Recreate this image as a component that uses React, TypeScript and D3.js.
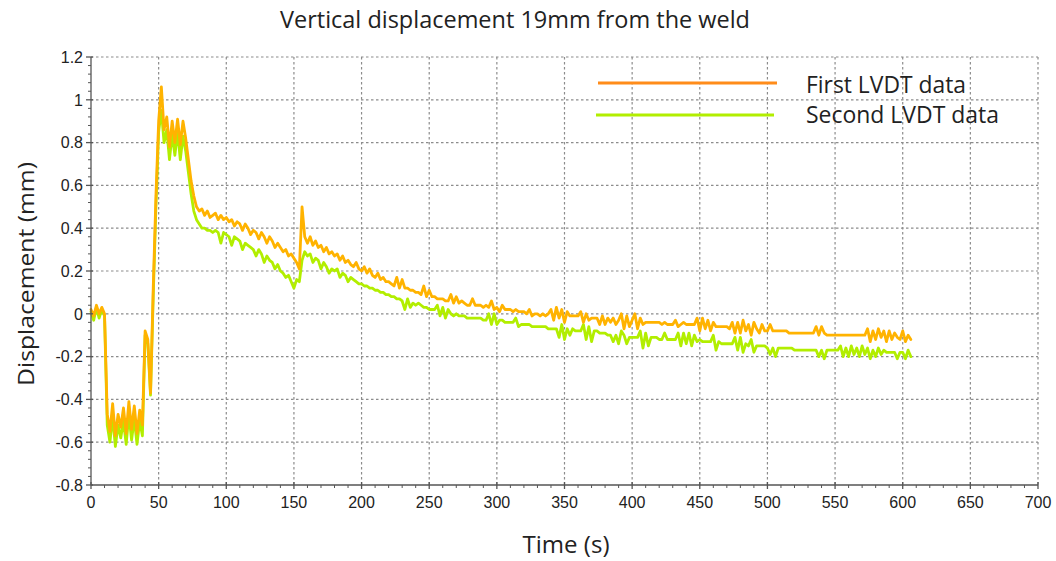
import React from "react";
import * as d3 from "d3";

// Chart text
const TITLE = "Vertical displacement 19mm from the weld";
const X_LABEL = "Time (s)";
const Y_LABEL = "Displacement (mm)";
const SERIES_NAMES = ["First LVDT data", "Second LVDT data"];

// Axis ticks
const X_TICKS = [0, 50, 100, 150, 200, 250, 300, 350, 400, 450, 500, 550, 600, 650, 700];
const Y_TICKS = [-0.8, -0.6, -0.4, -0.2, 0, 0.2, 0.4, 0.6, 0.8, 1, 1.2];

// LVDT readings (mm), logged every 2 s from t = 0
const SAMPLE_STEP_S = 2;

const firstLvdt = [
  0.02, -0.01, 0.04, 0.0, 0.03, 0.0, -0.47, -0.55, -0.42, -0.57,
  -0.47, -0.53, -0.44, -0.56, -0.41, -0.54, -0.43, -0.56, -0.45, -0.52,
  -0.08, -0.12, -0.37, 0.12, 0.55, 0.9, 1.06, 0.86, 0.92, 0.78,
  0.9, 0.8, 0.91, 0.79, 0.9, 0.82, 0.72, 0.62, 0.55, 0.5,
  0.48, 0.49, 0.46, 0.48, 0.45, 0.46, 0.47, 0.44, 0.46, 0.44,
  0.45, 0.43, 0.44, 0.41, 0.43, 0.42, 0.39, 0.42, 0.4, 0.37,
  0.39, 0.38, 0.35, 0.38, 0.36, 0.33, 0.36, 0.34, 0.31, 0.33,
  0.31, 0.29, 0.3, 0.27, 0.28, 0.26, 0.24, 0.21, 0.5, 0.36,
  0.33, 0.36, 0.32, 0.34, 0.31, 0.32, 0.29, 0.31, 0.28, 0.29,
  0.27, 0.28, 0.25, 0.27, 0.24, 0.25, 0.23, 0.22, 0.24, 0.21,
  0.2, 0.22, 0.19, 0.21, 0.18, 0.17, 0.19, 0.16, 0.17, 0.15,
  0.15, 0.14, 0.13, 0.17, 0.12, 0.16, 0.12, 0.12, 0.11, 0.11,
  0.1, 0.1, 0.09, 0.13, 0.08, 0.11, 0.08, 0.08, 0.07, 0.07,
  0.07, 0.06, 0.06, 0.09, 0.05, 0.08, 0.05, 0.06, 0.05, 0.04,
  0.04, 0.07, 0.04, 0.04, 0.04, 0.03, 0.04, 0.03, 0.06, 0.02,
  0.03, 0.01, 0.04, 0.02, 0.02, 0.02, 0.01, 0.02, 0.01, 0.01,
  0.01, 0.0, 0.02, -0.01, 0.0, 0.0, -0.01, 0.0, -0.01, 0.0,
  0.02, -0.03, 0.03, -0.02, 0.02, -0.04, 0.01, -0.01, -0.01, -0.01,
  -0.01, 0.01, -0.04, 0.0, -0.03, -0.02, -0.02, -0.02, -0.05, -0.01,
  -0.05, -0.02, -0.04, -0.02, -0.05, -0.03, 0.0, -0.07, -0.01, -0.06,
  -0.03, 0.0, -0.07, -0.02, -0.05, -0.04, -0.04, -0.04, -0.04, -0.04,
  -0.04, -0.05, -0.04, -0.05, -0.05, -0.05, -0.03, -0.06, -0.05, -0.04,
  -0.05, -0.05, -0.05, -0.05, -0.02, -0.08, -0.02, -0.07, -0.03, -0.08,
  -0.04, -0.06, -0.06, -0.06, -0.06, -0.06, -0.07, -0.04, -0.09, -0.04,
  -0.09, -0.03, -0.08, -0.05, -0.1, -0.04, -0.07, -0.09, -0.05, -0.08,
  -0.08, -0.05, -0.08, -0.08, -0.08, -0.08, -0.08, -0.08, -0.09, -0.09,
  -0.09, -0.09, -0.09, -0.09, -0.09, -0.09, -0.09, -0.09, -0.06, -0.1,
  -0.06, -0.09, -0.1, -0.1, -0.1, -0.1, -0.1, -0.1, -0.1, -0.1,
  -0.1, -0.1, -0.1, -0.1, -0.1, -0.1, -0.1, -0.07, -0.13, -0.08,
  -0.12, -0.07, -0.11, -0.08, -0.13, -0.08, -0.12, -0.09, -0.11, -0.12,
  -0.08, -0.13, -0.1, -0.12,
];

const secondLvdt = [
  0.01, -0.03, 0.03, -0.02, 0.02, -0.01, -0.52, -0.6, -0.48, -0.62,
  -0.52, -0.58, -0.5, -0.61, -0.47, -0.59, -0.49, -0.61, -0.5, -0.57,
  -0.1, -0.14, -0.38, 0.08, 0.5, 0.85, 0.95, 0.8, 0.86, 0.72,
  0.84, 0.74, 0.85, 0.72, 0.83, 0.76, 0.66, 0.56, 0.48, 0.44,
  0.42, 0.4, 0.4, 0.39, 0.39, 0.38, 0.39, 0.38, 0.33, 0.38,
  0.37, 0.36, 0.32, 0.36, 0.35, 0.34, 0.3, 0.33, 0.32, 0.31,
  0.3, 0.27, 0.3, 0.28, 0.24, 0.27, 0.25, 0.24, 0.21, 0.23,
  0.2, 0.19, 0.17, 0.18, 0.15, 0.12, 0.16, 0.15, 0.25, 0.29,
  0.27, 0.28, 0.24, 0.26, 0.25, 0.21, 0.24, 0.22, 0.19, 0.21,
  0.2, 0.21, 0.17, 0.19, 0.18, 0.15, 0.17, 0.16, 0.15, 0.14,
  0.14, 0.13, 0.13, 0.12, 0.12, 0.11, 0.11, 0.1, 0.1, 0.09,
  0.09, 0.08, 0.08, 0.07, 0.07, 0.06, 0.02, 0.07, 0.03, 0.05,
  0.04, 0.05, 0.04, 0.03, 0.03, 0.02, 0.02, 0.02, 0.04, -0.01,
  0.03, -0.02, 0.02, 0.0, -0.01, 0.0, -0.01, -0.01, -0.01, -0.02,
  -0.02, -0.02, -0.02, -0.02, -0.02, -0.03, -0.03, 0.0, -0.05, 0.0,
  -0.05, -0.03, -0.03, -0.04, -0.04, -0.04, -0.04, -0.02, -0.06, -0.05,
  -0.05, -0.05, -0.05, -0.06, -0.06, -0.06, -0.06, -0.06, -0.06, -0.07,
  -0.07, -0.07, -0.07, -0.11, -0.05, -0.12, -0.07, -0.1, -0.07, -0.08,
  -0.08, -0.08, -0.05, -0.12, -0.06, -0.13, -0.08, -0.08, -0.09, -0.09,
  -0.09, -0.1, -0.1, -0.13, -0.1, -0.14, -0.08, -0.1, -0.14, -0.11,
  -0.11, -0.11, -0.11, -0.08, -0.16, -0.09, -0.15, -0.11, -0.11, -0.11,
  -0.12, -0.12, -0.09, -0.12, -0.12, -0.12, -0.12, -0.09, -0.15, -0.09,
  -0.14, -0.09, -0.15, -0.1, -0.13, -0.12, -0.13, -0.13, -0.13, -0.13,
  -0.1, -0.17, -0.13, -0.14, -0.14, -0.14, -0.14, -0.14, -0.11, -0.17,
  -0.11, -0.18, -0.14, -0.15, -0.12, -0.18, -0.15, -0.15, -0.15, -0.15,
  -0.16, -0.19, -0.16, -0.2, -0.16, -0.16, -0.16, -0.16, -0.16, -0.16,
  -0.17, -0.17, -0.17, -0.17, -0.17, -0.17, -0.17, -0.17, -0.17, -0.2,
  -0.17, -0.21, -0.17, -0.17, -0.17, -0.17, -0.17, -0.15, -0.2, -0.16,
  -0.2, -0.15, -0.19, -0.16, -0.2, -0.15, -0.19, -0.16, -0.21, -0.17,
  -0.2, -0.16, -0.19, -0.17, -0.18, -0.18, -0.18, -0.18, -0.21, -0.18,
  -0.18, -0.21, -0.17, -0.2,
];

const FIRST_COLOR = "#FFB300";
const FIRST_KEY_COLOR = "#FF8C1A";
const SECOND_COLOR = "#B2EE00";
const GRID_COLOR = "#8c8c8c";
const AXIS_COLOR = "#555555";

const WIDTH = 1056;
const HEIGHT = 561;
const PLOT = { left: 91, right: 1038, top: 57, bottom: 485 };

const TEXT_FONT = "'Open Sans', 'Noto Sans', sans-serif";
const TICK_FONT = "'Liberation Sans', Arial, sans-serif";

export default function App() {
  const x = d3.scaleLinear().domain([0, 700]).range([PLOT.left, PLOT.right]);
  const y = d3.scaleLinear().domain([-0.8, 1.2]).range([PLOT.bottom, PLOT.top]);

  const line = d3
    .line<number>()
    .x((_, i) => x(i * SAMPLE_STEP_S))
    .y((d) => y(d));

  const xMinor = d3.range(0, 701, 10).filter((v) => v % 50 !== 0);
  const yMinor = d3
    .range(0, 51)
    .map((k) => -0.8 + k * 0.04)
    .filter((v, k) => k % 5 !== 0);

  const fmt = (v: number) => String(+v.toFixed(1));

  return (
    <svg
      width={WIDTH}
      height={HEIGHT}
      viewBox={`0 0 ${WIDTH} ${HEIGHT}`}
      style={{ position: "absolute", left: 0, top: 0, background: "#ffffff" }}
    >
      <rect x={0} y={0} width={WIDTH} height={HEIGHT} fill="#ffffff" />

      {/* grid */}
      <g stroke={GRID_COLOR} strokeWidth={1.2} strokeDasharray="2.5,2.5">
        {X_TICKS.filter((v) => v > 0).map((v) => (
          <line key={`gx${v}`} x1={x(v)} x2={x(v)} y1={PLOT.top} y2={PLOT.bottom} />
        ))}
        {Y_TICKS.filter((v) => v > -0.8).map((v) => (
          <line key={`gy${v}`} x1={PLOT.left} x2={PLOT.right} y1={y(v)} y2={y(v)} />
        ))}
      </g>

      {/* series */}
      <g fill="none" strokeWidth={2.8} strokeLinejoin="round" strokeLinecap="round">
        <path d={line(secondLvdt) ?? ""} stroke={SECOND_COLOR} />
        <path d={line(firstLvdt) ?? ""} stroke={FIRST_COLOR} />
      </g>

      {/* axes */}
      <g stroke={AXIS_COLOR} strokeWidth={1.3}>
        <line x1={PLOT.left} x2={PLOT.left} y1={PLOT.top} y2={PLOT.bottom} />
        <line x1={PLOT.left} x2={PLOT.right} y1={PLOT.bottom} y2={PLOT.bottom} />
        {Y_TICKS.map((v) => (
          <line key={`ty${v}`} x1={PLOT.left - 5} x2={PLOT.left + 2} y1={y(v)} y2={y(v)} />
        ))}
        {X_TICKS.map((v) => (
          <line key={`tx${v}`} x1={x(v)} x2={x(v)} y1={PLOT.bottom - 3} y2={PLOT.bottom + 4} />
        ))}
      </g>
      <g stroke={AXIS_COLOR} strokeWidth={1}>
        {yMinor.map((v, i) => (
          <line key={`my${i}`} x1={PLOT.left - 3} x2={PLOT.left} y1={y(v)} y2={y(v)} />
        ))}
        {xMinor.map((v) => (
          <line key={`mx${v}`} x1={x(v)} x2={x(v)} y1={PLOT.bottom} y2={PLOT.bottom + 3} />
        ))}
      </g>

      {/* tick labels */}
      <g fontFamily={TICK_FONT} fontSize={16} fill="#222">
        {Y_TICKS.map((v) => (
          <text key={`ly${v}`} x={PLOT.left - 8} y={y(v)} dy="0.36em" textAnchor="end">
            {fmt(v)}
          </text>
        ))}
        {X_TICKS.map((v) => (
          <text key={`lx${v}`} x={x(v)} y={508} textAnchor="middle">
            {v}
          </text>
        ))}
      </g>

      {/* titles */}
      <text
        x={515}
        y={28}
        textAnchor="middle"
        fontFamily={TEXT_FONT}
        fontSize={23}
        fill="#222"
        textLength={470}
        lengthAdjust="spacingAndGlyphs"
      >
        {TITLE}
      </text>
      <text
        x={566}
        y={553}
        textAnchor="middle"
        fontFamily={TEXT_FONT}
        fontSize={23}
        fill="#222"
        textLength={87}
        lengthAdjust="spacingAndGlyphs"
      >
        {X_LABEL}
      </text>
      <text
        transform="translate(34,274) rotate(-90)"
        textAnchor="middle"
        fontFamily={TEXT_FONT}
        fontSize={21}
        fill="#222"
        textLength={224}
        lengthAdjust="spacingAndGlyphs"
      >
        {Y_LABEL}
      </text>

      {/* legend */}
      <g>
        <line x1={598} x2={777} y1={83} y2={83} stroke={FIRST_KEY_COLOR} strokeWidth={3} />
        <line x1={596} x2={774} y1={115} y2={115} stroke={SECOND_COLOR} strokeWidth={3} />
        <text
          x={806}
          y={93}
          fontFamily={TEXT_FONT}
          fontSize={23}
          fill="#222"
          textLength={160}
          lengthAdjust="spacingAndGlyphs"
        >
          {SERIES_NAMES[0]}
        </text>
        <text
          x={806}
          y={123}
          fontFamily={TEXT_FONT}
          fontSize={23}
          fill="#222"
          textLength={193}
          lengthAdjust="spacingAndGlyphs"
        >
          {SERIES_NAMES[1]}
        </text>
      </g>
    </svg>
  );
}
